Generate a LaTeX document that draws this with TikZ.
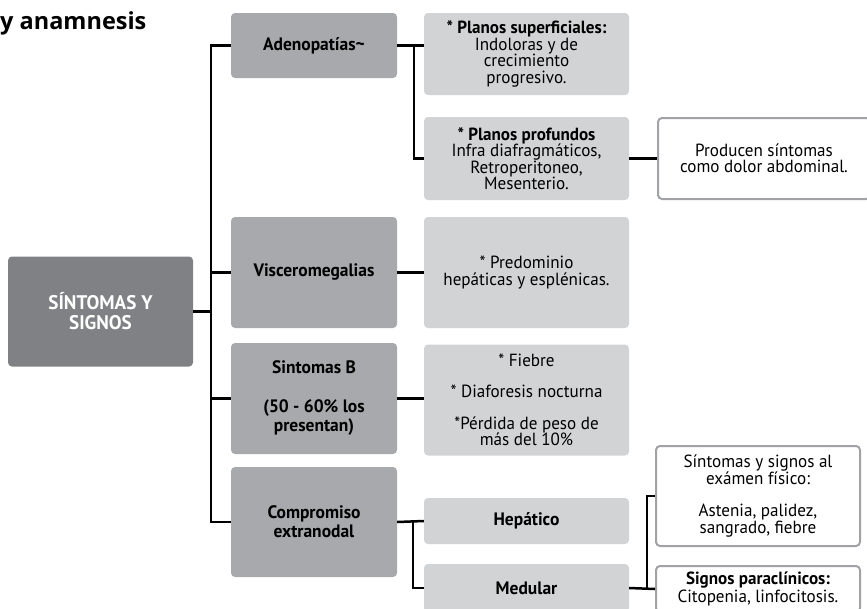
\documentclass[tikz,border=0pt]{standalone}
\usepackage{fontspec}
\setmainfont{PT Sans}[FakeStretch=0.97]
\newfontfamily\titlefont{Open Sans}
\usetikzlibrary{positioning}
\definecolor{grisRaiz}{HTML}{808184}
\definecolor{grisMedio}{HTML}{A7A9AC}
\definecolor{grisClaro}{HTML}{D1D3D4}
\definecolor{grisBorde}{HTML}{A0A2A5}
\tikzset{
  caja/.style={rounded corners=4pt, inner sep=2pt, align=center,
    font=\fontsize{17.6}{16.5}\selectfont},
  raiz/.style={caja, fill=grisRaiz, text=white, font=\fontsize{19.7}{20}\selectfont\bfseries,
    minimum width=185pt, minimum height=110pt},
  nivel/.style={caja, fill=grisMedio, font=\fontsize{18}{19}\selectfont\bfseries,
    minimum width=166pt},
  detalle/.style={caja, fill=grisClaro, minimum width=205pt},
  nota/.style={caja, draw=grisBorde, line width=2pt, fill=white},
  enlace/.style={line width=2.5pt}
}
\begin{document}
\begin{tikzpicture}[x=1pt,y=-1pt]
  \useasboundingbox (0,0) rectangle (867,608);
  % title
  \node[anchor=base west, inner sep=0pt, font=\titlefont\fontsize{23.5}{25}\selectfont\bfseries]
    (titulo) at (0,29) {y anamnesis};
  % root
  \node[raiz] (sintomas) at (100.5,311.5) {SÍNTOMAS Y\\SIGNOS};
  % first level
  \node[nivel, minimum height=65pt] (adeno) at (314,45.5) {Adenopatías\textasciitilde};
  \node[nivel, minimum height=111pt] (viscero) at (314,272.5) {Visceromegalias};
  \node[nivel, minimum height=111pt] (sintB) at (314,398.5)
    {Sintomas B\\[20pt](50 - 60\% los\\presentan)};
  \node[nivel, minimum height=110pt] (extra) at (314,522) {Compromiso\\extranodal};
  % second level
  \node[detalle, minimum height=82pt] (superf) at (526.5,54)
    {{\bfseries * Planos superficiales:}\\Indoloras y de\\crecimiento\\progresivo.};
  \node[detalle, minimum height=83pt] (profund) at (526.5,158.5)
    {{\bfseries * Planos profundos}\\Infra diafragmáticos,\\Retroperitoneo,\\Mesenterio.};
  \node[detalle, minimum height=111pt] (predom) at (526.5,272.5)
    {* Predominio\\hepáticas y esplénicas.};
  \node[detalle, minimum height=111pt] (fiebre) at (526.5,400)
    {* Fiebre\\[15pt]* Diaforesis nocturna\\[15pt]*Pérdida de peso de\\más del 10\%};
  \node[detalle, minimum height=46pt, font=\fontsize{18}{19}\selectfont\bfseries]
    (hepat) at (526.5,521) {Hepático};
  \node[detalle, minimum height=48pt, font=\fontsize{18}{19}\selectfont\bfseries]
    (medular) at (526.5,588) {Medular};
  % third level
  \node[nota, minimum width=212pt, minimum height=81pt] (dolor) at (764,158.5)
    {Producen síntomas\\como dolor abdominal.};
  \node[nota, minimum width=204pt, minimum height=100pt, font=\fontsize{17.6}{15.5}\selectfont]
    (examen) at (758,496)
    {Síntomas y signos al\\exámen físico:\\[17pt]Astenia, palidez,\\sangrado, fiebre};
  \node[nota, minimum width=204pt, minimum height=46pt, font=\fontsize{17.6}{15.5}\selectfont]
    (paracl) at (758,589)
    {{\bfseries Signos paraclínicos:}\\Citopenia, linfocitosis.};
  % fork positions
  \coordinate (tronco) at (211,0);
  \coordinate (forkA) at (414,0);
  \coordinate (forkB) at (413,0);
  \coordinate (forkC) at (647,0);
  % trunk
  \draw[enlace] (sintomas.east) -- (sintomas.east -| tronco);
  \draw[enlace] (adeno.west) -| (tronco |- extra.west) -- (extra.west);
  \draw[enlace] (viscero.west) -- (viscero.west -| tronco);
  \draw[enlace] (sintB.west) -- (sintB.west -| tronco);
  % adenopatias
  \draw[enlace] (adeno.east) -- (adeno.east -| superf.west);
  \draw[enlace] (adeno.east -| forkA) |- (profund.west);
  \draw[enlace] (profund.east) -- (dolor.west);
  % other branches
  \draw[enlace] (viscero.east) -- (predom.west);
  \draw[enlace] (sintB.east) -- (sintB.east -| fiebre.west);
  \draw[enlace] (extra.east) -- (hepat.west);
  \draw[enlace] (extra.east -| forkB) |- (medular.west);
  % medular
  \draw[enlace] (medular.east) -- (paracl.west);
  \draw[enlace] (medular.east -| forkC) |- (examen.west);
\end{tikzpicture}
\end{document}
